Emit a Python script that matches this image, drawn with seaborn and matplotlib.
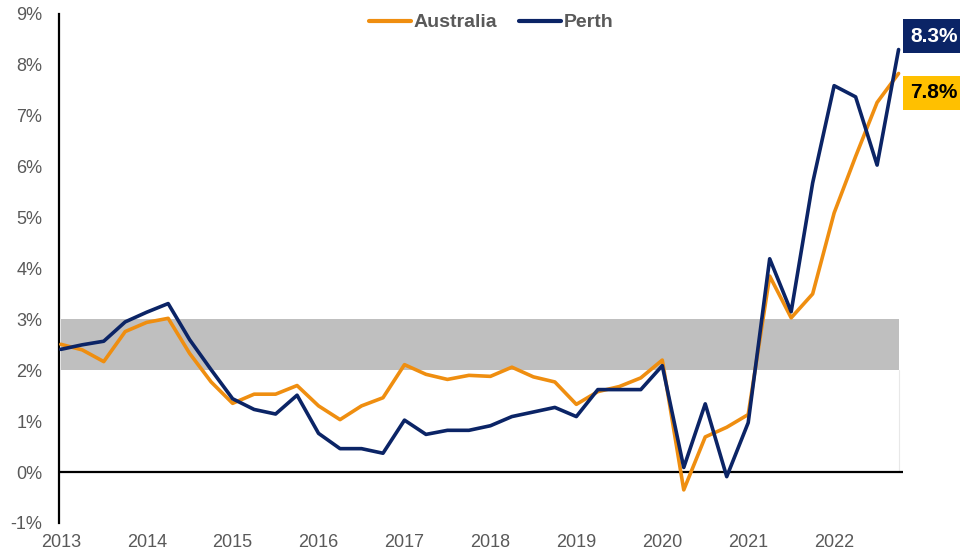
import numpy as np
import pandas as pd
import matplotlib
matplotlib.use("Agg")
import matplotlib.pyplot as plt
import seaborn as sns

years = [2013, 2014, 2015, 2016, 2017, 2018, 2019, 2020, 2021, 2022]
y_ticks = [-1, 0, 1, 2, 3, 4, 5, 6, 7, 8, 9]
y_tick_labels = ["-1%", "0%", "1%", "2%", "3%", "4%", "5%", "6%", "7%", "8%", "9%"]

australia = [2.51, 2.40, 2.17, 2.76, 2.94, 3.02, 2.33, 1.77, 1.35, 1.53,
             1.53, 1.70, 1.30, 1.03, 1.30, 1.46, 2.11, 1.92, 1.82, 1.90,
             1.88, 2.06, 1.87, 1.77, 1.33, 1.58, 1.68, 1.85, 2.20, -0.35,
             0.69, 0.88, 1.13, 3.85, 3.03, 3.50, 5.09, 6.20, 7.26, 7.83]
perth = [2.41, 2.50, 2.57, 2.95, 3.14, 3.31, 2.60, 2.01, 1.44, 1.23,
         1.14, 1.51, 0.76, 0.46, 0.46, 0.37, 1.02, 0.74, 0.82, 0.82,
         0.91, 1.09, 1.18, 1.27, 1.09, 1.62, 1.62, 1.62, 2.09, 0.09,
         1.34, -0.09, 0.97, 4.19, 3.15, 5.68, 7.59, 7.37, 6.03, 8.30]
band_low, band_high = 2, 3
latest_labels = {"Perth": "8.3%", "Australia": "7.8%"}

n = len(australia)
quarter_idx = np.arange(n)
df = pd.DataFrame({
    "q": np.concatenate([quarter_idx, quarter_idx]),
    "value": australia + perth,
    "series": ["Australia"] * n + ["Perth"] * n,
})

orange = "#EF8E10"
navy = "#0B2466"
gray_text = "#595959"

sns.set_style("white")
plt.rcParams["font.family"] = ["Liberation Sans", "DejaVu Sans"]

fig = plt.figure(figsize=(9.6, 5.56), dpi=100)
ax = fig.add_axes([0.0615, 0.0594, 0.879, 0.9156])

ax.fill_between([0, n - 1], band_low, band_high, color="#BFBFBF", lw=0, zorder=0)
ax.plot([n - 1, n - 1], [0, band_low], color="#E8E8E8", lw=0.8, zorder=0)
ax.axhline(0, color="black", lw=1.6, zorder=1)

sns.lineplot(data=df, x="q", y="value", hue="series",
             palette={"Australia": orange, "Perth": navy},
             linewidth=2.6, ax=ax, zorder=3)

ax.set_xlim(-0.08, 39.2)
ax.set_ylim(-1, 9)
ax.set_yticks(y_ticks)
ax.set_yticklabels(y_tick_labels)
ax.set_xticks([(y - years[0]) * 4 for y in years])
ax.set_xticklabels([str(y) for y in years])
ax.tick_params(axis="both", length=0, labelsize=13, colors=gray_text)
ax.tick_params(axis="y", pad=12)
ax.tick_params(axis="x", pad=8)
ax.set_xlabel("")
ax.set_ylabel("")
for s in ["top", "right", "bottom"]:
    ax.spines[s].set_visible(False)
ax.spines["left"].set_color("black")
ax.spines["left"].set_linewidth(1.6)

leg = ax.legend(loc="center", bbox_to_anchor=(0.512, 0.983), ncol=2,
                frameon=False, handlelength=2.15, handletextpad=0.15,
                columnspacing=1.1, borderpad=0, borderaxespad=0,
                prop={"weight": "bold", "size": 14})
for t in leg.get_texts():
    t.set_color(gray_text)
for h in leg.get_lines():
    h.set_linewidth(3)
    h.set_solid_capstyle("round")

fig.text(0.9485, 0.935, latest_labels["Perth"], color="white", fontsize=15,
         fontweight="bold", va="center", ha="left",
         bbox=dict(boxstyle="square,pad=0.35", fc=navy, ec="none"))
fig.text(0.9485, 0.833, latest_labels["Australia"], color="black", fontsize=15,
         fontweight="bold", va="center", ha="left",
         bbox=dict(boxstyle="square,pad=0.35", fc="#FFC000", ec="none"))

fig.savefig("out.png", dpi=100)
